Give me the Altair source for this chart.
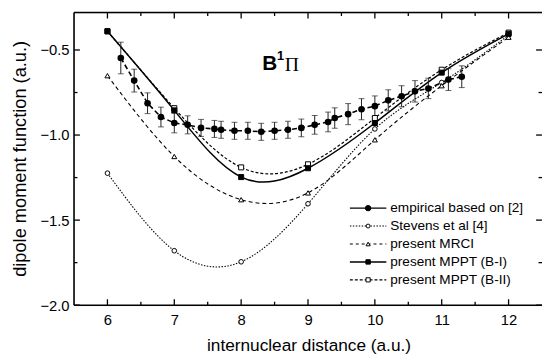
import altair as alt
import pandas as pd

# ---- data ----
R = [6, 7, 8, 9, 10, 11, 12]
STEVENS = [-1.224, -1.680, -1.745, -1.404, -0.964, -0.691, -0.413]
MRCI = [-0.651, -1.126, -1.380, -1.340, -1.028, -0.710, -0.425]
MPPT_I = [-0.390, -0.855, -1.247, -1.195, -0.929, -0.633, -0.405]
MPPT_II = [-0.390, -0.842, -1.190, -1.172, -0.900, -0.616, -0.398]

EMP_R = [6.2, 6.4, 6.6, 6.8, 7.0, 7.2, 7.4, 7.6, 7.7, 7.9, 8.1, 8.3, 8.5, 8.7,
         8.9, 9.1, 9.3, 9.4, 9.6, 9.8, 10.0, 10.2, 10.4, 10.6, 10.8, 11.1, 11.3]
EMP_D = [-0.547, -0.680, -0.813, -0.894, -0.929, -0.940, -0.958, -0.964, -0.969,
         -0.975, -0.975, -0.981, -0.975, -0.969, -0.958, -0.940, -0.923, -0.900,
         -0.877, -0.848, -0.830, -0.796, -0.772, -0.743, -0.726, -0.674, -0.657]
EMP_ERR = [0.093, 0.067, 0.061, 0.058, 0.058, 0.053, 0.050, 0.050, 0.050, 0.050,
           0.050, 0.050, 0.050, 0.050, 0.052, 0.055, 0.058, 0.060, 0.062, 0.062,
           0.060, 0.062, 0.062, 0.063, 0.060, 0.064, 0.064]

X_MAJOR = [6, 7, 8, 9, 10, 11, 12]
X_MINOR = [6.5, 7.5, 8.5, 9.5, 10.5, 11.5]
Y_MAJOR = [-2.0, -1.5, -1.0, -0.5]
Y_MINOR = [-1.75, -1.25, -0.75]

LEGEND_LABELS = ["empirical based on [2]", "Stevens et al [4]", "present MRCI",
                 "present MPPT (B-I)", "present MPPT (B-II)"]

W, H = 475, 297
FONT = "Liberation Sans"

xscale = alt.Scale(domain=[5.5, 12.5], nice=False, zero=False)
yscale = alt.Scale(domain=[-2.0, -0.28], nice=False, zero=False)
xaxis = alt.Axis(values=X_MAJOR, format="d", ticks=False, tickSize=0, domain=False,
                 grid=False, labelPadding=8, labelFontSize=15, labelFont=FONT,
                 labelColor="black", title="internuclear distance (a.u.)",
                 titleFont=FONT, titleFontSize=17.5, titleFontWeight="normal",
                 titleColor="black", titleX=238, titleY=41, titleBaseline="middle",
                 titleAlign="center")
yaxis = alt.Axis(values=Y_MAJOR, format=".1f", ticks=False, tickSize=0, domain=False,
                 grid=False, labelPadding=5, labelFontSize=15, labelFont=FONT,
                 labelColor="black",
                 title="dipole moment function (a.u.)", titleFont=FONT,
                 titleFontSize=18.5, titleFontWeight="normal", titleColor="black",
                 titleX=-55, titleY=148, titleBaseline="middle", titleAlign="center",
                 titleAngle=270)

def X(f):
    return alt.X(f, type="quantitative", scale=xscale, axis=xaxis)

def Y(f):
    return alt.Y(f, type="quantitative", scale=yscale, axis=yaxis)

series = [
    ("Stevens", STEVENS, dict(strokeDash=[1.5, 1.5], strokeWidth=1.1), "circle", False, 22),
    ("MRCI", MRCI, dict(strokeDash=[4, 3], strokeWidth=1.1), "triangle-up", False, 26),
    ("B-II", MPPT_II, dict(strokeDash=[3, 2], strokeWidth=1.2), "square", False, 26),
    ("B-I", MPPT_I, dict(strokeWidth=1.5), "square", True, 26),
]

layers = []
for name, vals, ls, shape, filled, size in series:
    df = pd.DataFrame({"r": R, "d": vals})
    layers.append(alt.Chart(df).mark_line(color="black", interpolate="natural", **ls)
                  .encode(x=X("r"), y=Y("d")))

emp = pd.DataFrame({"r": EMP_R, "d": EMP_D,
                    "lo": [d - e for d, e in zip(EMP_D, EMP_ERR)],
                    "hi": [d + e for d, e in zip(EMP_D, EMP_ERR)]})
layers.append(alt.Chart(emp).mark_line(color="black", strokeDash=[5, 3], strokeWidth=1.6)
              .encode(x=X("r"), y=Y("d")))
layers.append(alt.Chart(emp).mark_rule(color="#222", strokeWidth=1)
              .encode(x=X("r"), y=Y("lo"), y2="hi"))
for f in ["lo", "hi"]:
    layers.append(alt.Chart(emp).mark_tick(color="#222", orient="horizontal",
                                           size=6, thickness=1)
                  .encode(x=X("r"), y=Y(f)))
layers.append(alt.Chart(emp).mark_point(shape="circle", filled=True, fill="black",
                                        color="black", size=45, opacity=1)
              .encode(x=X("r"), y=Y("d")))

for name, vals, ls, shape, filled, size in series:
    df = pd.DataFrame({"r": R, "d": vals})
    layers.append(alt.Chart(df).mark_point(shape=shape, filled=True,
                                           fill="black" if filled else "white",
                                           stroke="black", strokeWidth=1, size=size,
                                           opacity=1)
                  .encode(x=X("r"), y=Y("d")))

# frame (left, top, bottom) and inward ticks
one = alt.Data(values=[{"a": 1}])
layers.append(alt.Chart(one).mark_rule(color="black", strokeWidth=1.6)
              .encode(x=alt.value(0), x2=alt.value(0), y=alt.value(0), y2=alt.value(H)))
layers.append(alt.Chart(one).mark_rule(color="black", strokeWidth=1.6)
              .encode(x=alt.value(0), x2=alt.value(W), y=alt.value(0), y2=alt.value(0)))
layers.append(alt.Chart(one).mark_rule(color="black", strokeWidth=1.6)
              .encode(x=alt.value(0), x2=alt.value(W), y=alt.value(H), y2=alt.value(H)))

for vals, ln in [(X_MAJOR, 6), (X_MINOR, 3.5)]:
    df = pd.DataFrame({"r": vals})
    layers.append(alt.Chart(df).mark_rule(color="black", strokeWidth=1.3)
                  .encode(x=X("r"), y=alt.value(H), y2=alt.value(H - ln)))
    layers.append(alt.Chart(df).mark_rule(color="black", strokeWidth=1.3)
                  .encode(x=X("r"), y=alt.value(0), y2=alt.value(ln)))
for vals, ln in [(Y_MAJOR, 6), (Y_MINOR, 3.5)]:
    df = pd.DataFrame({"d": vals})
    layers.append(alt.Chart(df).mark_rule(color="black", strokeWidth=1.3)
                  .encode(y=Y("d"), x=alt.value(0), x2=alt.value(ln)))
    layers.append(alt.Chart(df).mark_rule(color="black", strokeWidth=1.3)
                  .encode(y=Y("d"), x=alt.value(W), x2=alt.value(W - ln)))

# state label B^1 Pi
layers.append(alt.Chart(one).mark_text(font=FONT, fontSize=21, fontWeight="bold",
                                       align="left", baseline="alphabetic", color="black")
              .encode(x=alt.value(191), y=alt.value(58), text=alt.value("B")))
layers.append(alt.Chart(one).mark_text(font=FONT, fontSize=13, fontWeight="bold",
                                       align="left", baseline="alphabetic", color="black")
              .encode(x=alt.value(206), y=alt.value(48), text=alt.value("1")))
layers.append(alt.Chart(one).mark_text(font="Liberation Serif", fontSize=20,
                                       align="left", baseline="alphabetic", color="black")
              .encode(x=alt.value(214), y=alt.value(59), text=alt.value("\u03a0")))

# legend
leg_styles = [
    (dict(strokeWidth=1.5), "circle", True, 30),
    (dict(strokeDash=[1.5, 1.5], strokeWidth=1.1), "circle", False, 16),
    (dict(strokeDash=[3, 3], strokeWidth=1.1), "triangle-up", False, 18),
    (dict(strokeWidth=1.5), "square", True, 20),
    (dict(strokeDash=[3, 2], strokeWidth=1.2), "square", False, 18),
]
for i, (label, (ls, shape, filled, size)) in enumerate(zip(LEGEND_LABELS, leg_styles)):
    yy = 198.5 + 18.2 * i
    layers.append(alt.Chart(one).mark_rule(color="black", **ls)
                  .encode(x=alt.value(280), x2=alt.value(317), y=alt.value(yy), y2=alt.value(yy)))
    layers.append(alt.Chart(one).mark_point(shape=shape, filled=True,
                                            fill="black" if filled else "white",
                                            stroke="black", strokeWidth=1, size=size,
                                            opacity=1)
                  .encode(x=alt.value(298.5), y=alt.value(yy)))
    layers.append(alt.Chart(one).mark_text(font=FONT, fontSize=13.8, align="left",
                                           baseline="middle", color="black")
                  .encode(x=alt.value(321), y=alt.value(yy), text=alt.value(label)))

chart = alt.layer(*layers).properties(
    width=W, height=H,
    autosize=alt.AutoSizeParams(type="none"),
    padding={"left": 67, "top": 2, "right": 0, "bottom": 52},
).configure_view(stroke=None).configure(background="white")

chart.save("out.html", embed_options={"renderer": "svg", "actions": False})
